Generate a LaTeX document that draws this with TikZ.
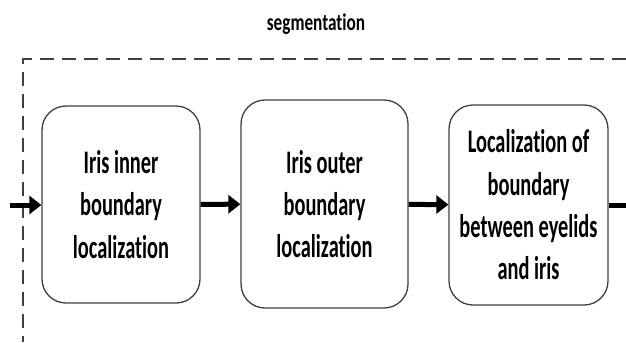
\documentclass[tikz,border=0pt]{standalone}
\usepackage{fontspec}
\setmainfont{Carlito}[FakeStretch=0.62,RawFeature=-liga]
\newfontfamily\segfont{Carlito}[FakeStretch=0.72,RawFeature=-liga]
\usetikzlibrary{arrows.meta}
\begin{document}
\begin{tikzpicture}[x=1bp, y=-1bp, >={Triangle[length=12bp,width=18bp]}, line width=5bp,
  stage node/.style={rectangle,rounded corners=24bp,draw=black!75,line width=1.3bp,align=center,
    font=\bfseries\fontsize{33}{42.5}\selectfont,inner sep=0pt}]%fill=white,
\useasboundingbox (0,0) rectangle (626,342);
\begin{scope}
\node[stage node, minimum width=158bp, minimum height=197bp] (s1) at (121,204.5) {Iris inner\\boundary\\localization};
\node[stage node, minimum width=167bp, minimum height=208bp] (s2) at (324.5,204) {Iris outer\\boundary\\localization};
\node[stage node, minimum width=159bp, minimum height=200bp] (s3) at (528.5,205) {Localization of\\boundary\\between eyelids\\and iris};
\node[font=\segfont\bfseries\fontsize{24}{28}\selectfont] (seg) at (316,24) {segmentation};
%\node[stage node] (s) at (,) {};
\end{scope}
\begin{scope}
\coordinate (in) at (10,205);
\coordinate (out) at (626,205);
\draw[black!75, line width=2bp, dash pattern=on 14bp off 8bp] (626,59) -- (23,59) -- (23,342);
\draw[->] (in) -- (s1.west |- in);
\draw[->] (s1) -- (s2);
\draw[->] (s2) -- (s3);
\draw (s3.east |- out) -- (out);
%\draw[->] (s) -- (s);
\end{scope}
\end{tikzpicture}
\end{document}
